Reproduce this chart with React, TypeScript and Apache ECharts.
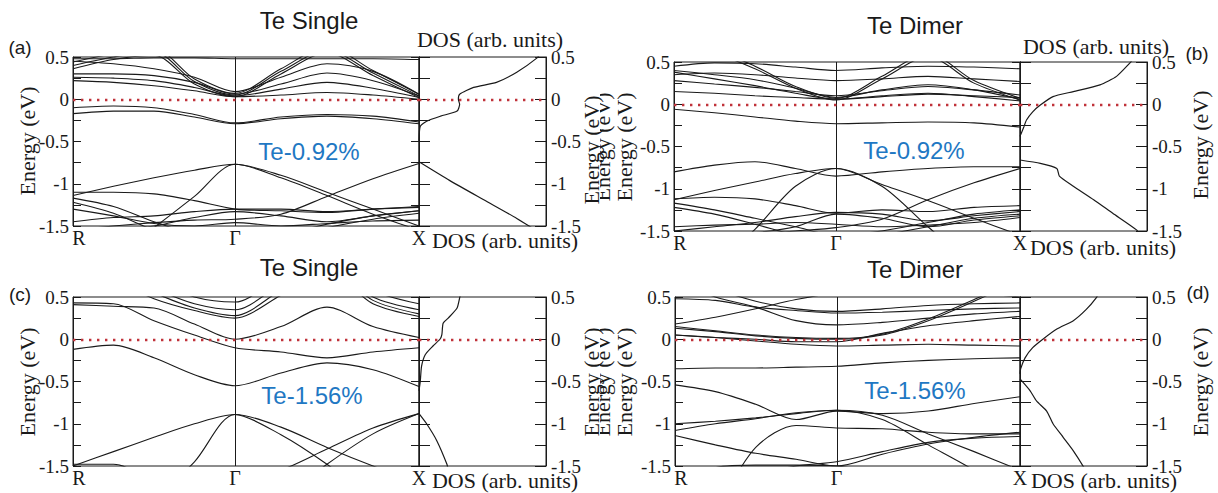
import React, { useEffect, useRef } from 'react';
import * as echarts from 'echarts';

// ---- k-path (R - Γ - X) sample positions, fraction of path length ----
const KPTS = [0, 0.117, 0.234, 0.351, 0.468, 0.601, 0.734, 0.867, 1];
const K_LABEL_POS = [0, 0.468, 1];
const K_LABELS = ['R', 'Γ', 'X'];
const GAMMA = 0.468;
const E_MIN = -1.5;
const E_MAX = 0.5;
const E_STEP = 0.25;

// ---- texts ----
const TITLES = ['Te Single', 'Te Dimer', 'Te Single', 'Te Dimer'];
const STRAINS = ['Te-0.92%', 'Te-0.92%', 'Te-1.56%', 'Te-1.56%'];
const LETTERS = ['(a)', '(b)', '(c)', '(d)'];
const DOS_NAME = 'DOS (arb. units)';
const E_NAME = 'Energy (eV)';

// ---- band energies (eV) at KPTS, panel (a): Te single, 0.92% ----
const BANDS_A: number[][] = [
  [0.36, 0.47, 0.52, 0.18, 0.03, 0.3, 0.55, 0.28, 0.02],
  [0.4, 0.5, 0.56, 0.21, 0.05, 0.33, 0.58, 0.31, 0.04],
  [0.44, 0.54, 0.6, 0.24, 0.07, 0.36, 0.62, 0.34, 0.06],
  [0.22, 0.2, 0.16, 0.1, 0.03, 0.05, 0.08, 0.05, 0.0],
  [0.26, 0.25, 0.22, 0.14, 0.04, 0.12, 0.2, 0.13, 0.02],
  [0.3, 0.3, 0.28, 0.2, 0.06, 0.18, 0.31, 0.22, 0.04],
  [0.45, 0.42, 0.36, 0.26, 0.09, 0.26, 0.42, 0.33, 0.06],
  [0.48, 0.48, 0.49, 0.49, 0.48, 0.48, 0.48, 0.48, 0.47],
  [-0.1, -0.08, -0.1, -0.18, -0.28, -0.21, -0.18, -0.2, -0.27],
  [-0.17, -0.14, -0.14, -0.21, -0.29, -0.23, -0.2, -0.23, -0.29],
  [-1.14, -1.03, -0.93, -0.84, -0.77, -0.93, -1.14, -1.36, -1.55],
  [-2.2, -1.88, -1.52, -1.15, -0.77, -0.9, -1.1, -1.3, -1.5],
  [-1.55, -1.5, -1.46, -1.43, -1.42, -1.36, -1.15, -0.94, -0.76],
  [-1.1, -1.1, -1.12, -1.2, -1.3, -1.32, -1.34, -1.3, -1.28],
  [-1.17, -1.27, -1.45, -1.6, -1.7, -1.6, -1.48, -1.38, -1.32],
  [-1.22, -1.35, -1.55, -1.7, -1.75, -1.65, -1.52, -1.42, -1.35],
  [-1.45, -1.4, -1.38, -1.33, -1.3, -1.3, -1.33, -1.3, -1.27],
  [-1.6, -1.55, -1.5, -1.4, -1.33, -1.38, -1.45, -1.38, -1.32],
  [-1.3, -1.38, -1.47, -1.5, -1.46, -1.5, -1.47, -1.44, -1.43],
];

// ---- panel (b): Te dimer, 0.92% ----
const BANDS_B: number[][] = [
  [0.65, 0.6, 0.42, 0.19, 0.05, 0.3, 0.56, 0.25, 0.05],
  [0.7, 0.64, 0.45, 0.21, 0.07, 0.33, 0.6, 0.28, 0.07],
  [0.38, 0.3, 0.22, 0.13, 0.06, 0.1, 0.13, 0.09, 0.04],
  [0.4, 0.35, 0.29, 0.19, 0.08, 0.17, 0.23, 0.17, 0.06],
  [0.45, 0.49, 0.48, 0.44, 0.4, 0.43, 0.45, 0.44, 0.42],
  [0.35, 0.37, 0.35, 0.31, 0.28, 0.3, 0.33, 0.3, 0.27],
  [0.28, 0.24, 0.2, 0.15, 0.1, 0.16, 0.21, 0.17, 0.11],
  [0.15, 0.13, 0.1, 0.08, 0.06, 0.09, 0.12, 0.1, 0.08],
  [-0.06, -0.1, -0.15, -0.2, -0.23, -0.22, -0.21, -0.22, -0.27],
  [-0.8, -0.72, -0.68, -0.76, -0.85, -0.8, -0.76, -0.74, -0.74],
  [-1.13, -1.02, -0.92, -0.82, -0.76, -0.95, -1.14, -1.35, -1.55],
  [-2.2, -1.9, -1.48, -0.97, -0.76, -0.97, -1.45, -1.9, -2.2],
  [-1.62, -1.58, -1.54, -1.5, -1.46, -1.36, -1.13, -0.93, -0.76],
  [-1.12, -1.1, -1.12, -1.2, -1.29, -1.25, -1.27, -1.22, -1.2],
  [-1.17, -1.25, -1.35, -1.45, -1.55, -1.5, -1.4, -1.3, -1.25],
  [-1.22, -1.3, -1.42, -1.55, -1.65, -1.55, -1.45, -1.35, -1.3],
  [-1.5, -1.45, -1.4, -1.33, -1.28, -1.3, -1.38, -1.32, -1.27],
  [-1.6, -1.55, -1.52, -1.45, -1.3, -1.35, -1.45, -1.37, -1.32],
  [-1.45, -1.43, -1.42, -1.4, -1.42, -1.45, -1.43, -1.4, -1.34],
];

// ---- panel (c): Te single, 1.56% ----
const BANDS_C: number[][] = [
  [0.43, 0.42, 0.22, 0.05, -0.1, -0.15, -0.22, -0.15, -0.1],
  [0.41, 0.39, 0.37, 0.18, 0.0, 0.15, 0.38, 0.15, 0.02],
  [0.9, 0.7, 0.48, 0.34, 0.25, 0.52, 0.8, 0.42, 0.27],
  [0.95, 0.75, 0.55, 0.37, 0.28, 0.58, 0.85, 0.46, 0.3],
  [1.0, 0.8, 0.6, 0.42, 0.35, 0.65, 0.9, 0.5, 0.35],
  [1.1, 0.9, 0.7, 0.5, 0.44, 0.75, 1.0, 0.58, 0.42],
  [-0.12, -0.07, -0.22, -0.42, -0.55, -0.4, -0.28, -0.36, -0.56],
  [-1.5, -1.33, -1.16, -1.0, -0.89, -1.04, -1.28, -1.5, -1.7],
  [-2.5, -2.2, -1.9, -1.45, -0.89, -1.13, -1.48, -1.9, -2.3],
  [-2.5, -2.2, -2.0, -1.8, -1.7, -1.55, -1.3, -1.05, -0.88],
  [-2.6, -2.4, -2.2, -2.1, -2.3, -1.9, -1.48, -1.12, -0.88],
  [-1.48, -1.48, -1.7, -2.0, -2.2, -2.2, -2.2, -2.2, -2.2],
];

// ---- panel (d): Te dimer, 1.56% ----
const BANDS_D: number[][] = [
  [0.48, 0.46, 0.38, 0.34, 0.31, 0.32, 0.34, 0.36, 0.37],
  [0.18, 0.26, 0.36, 0.47, 0.55, 0.6, 0.6, 0.55, 0.5],
  [0.13, 0.09, 0.04, 0.01, 0.0, 0.05, 0.22, 0.45, 0.7],
  [0.15, 0.1, 0.05, 0.02, 0.01, 0.06, 0.24, 0.47, 0.72],
  [0.05, 0.02, 0.0, -0.03, -0.03, 0.07, 0.16, 0.22, 0.27],
  [0.7, 0.5, 0.38, 0.22, 0.17, 0.2, 0.25, 0.3, 0.33],
  [0.8, 0.6, 0.45, 0.36, 0.33, 0.36, 0.4, 0.42, 0.43],
  [0.05, 0.02, -0.02, -0.06, -0.08, -0.07, -0.06, -0.07, -0.08],
  [-0.35, -0.34, -0.34, -0.33, -0.32, -0.28, -0.25, -0.23, -0.22],
  [-0.54, -0.62, -0.77, -0.95, -0.85, -0.88, -0.85, -0.76, -0.68],
  [-1.08, -1.0, -0.94, -0.87, -0.84, -0.9, -1.12, -1.33, -1.55],
  [-1.14, -1.25, -1.35, -1.42, -1.5, -1.36, -1.24, -1.16, -1.1],
  [-2.5, -2.0, -1.28, -1.02, -1.05, -1.06, -1.1, -1.12, -1.12],
  [-1.0, -0.97, -0.93, -0.88, -0.84, -0.95, -1.25, -1.55, -1.9],
  [-1.7, -1.52, -1.49, -1.49, -1.5, -1.6, -1.7, -1.8, -1.9],
  [-1.8, -1.7, -1.6, -1.5, -1.45, -1.33, -1.22, -1.17, -1.15],
];

// ---- DOS curves: [dos (arb.), energy (eV)], split where DOS vanishes ----
const DOS_A_UPPER: number[][] = [[0.96, 0.55], [0.93, 0.49], [0.77, 0.32], [0.61, 0.2], [0.43, 0.14], [0.32, 0.06], [0.31, 0.0], [0.32, -0.06], [0.3, -0.14], [0.17, -0.2], [0.06, -0.26], [0.01, -0.32], [0, -0.49]];
const DOS_A_LOWER: number[][] = [[0, -0.74], [0.24, -0.96], [0.51, -1.19], [0.77, -1.41], [0.92, -1.55]];
const DOS_B_UPPER: number[][] = [[0.9, 0.55], [0.86, 0.48], [0.76, 0.33], [0.63, 0.23], [0.42, 0.15], [0.26, 0.09], [0.16, -0.01], [0.1, -0.09], [0.05, -0.19], [0.03, -0.27], [0, -0.38]];
const DOS_B_LOWER: number[][] = [[0, -0.66], [0.16, -0.7], [0.29, -0.76], [0.31, -0.85], [0.42, -0.97], [0.58, -1.13], [0.73, -1.29], [0.92, -1.49], [0.94, -1.55]];
const DOS_C_UPPER: number[][] = [[0.33, 0.55], [0.32, 0.49], [0.3, 0.37], [0.23, 0.25], [0.19, 0.19], [0.18, 0.055], [0.165, 0], [0.11, -0.08], [0.05, -0.18], [0.02, -0.32], [0.01, -0.5], [0, -0.61]];
const DOS_C_LOWER: number[][] = [[0, -0.88], [0.06, -1.0], [0.14, -1.2], [0.22, -1.48], [0.23, -1.55]];
const DOS_D_UPPER: number[][] = [[0.62, 0.55], [0.6, 0.49], [0.52, 0.35], [0.42, 0.22], [0.29, 0.12], [0.18, 0], [0.1, -0.1], [0.04, -0.22], [0.005, -0.35], [0, -0.41]];
const DOS_D_LOWER: number[][] = [[0, -0.47], [0.08, -0.61], [0.13, -0.73], [0.21, -0.85], [0.26, -1.0], [0.34, -1.16], [0.42, -1.32], [0.5, -1.51], [0.51, -1.55]];

const PANEL_BANDS = [BANDS_A, BANDS_B, BANDS_C, BANDS_D];
const PANEL_DOS = [
  [DOS_A_UPPER, DOS_A_LOWER],
  [DOS_B_UPPER, DOS_B_LOWER],
  [DOS_C_UPPER, DOS_C_LOWER],
  [DOS_D_UPPER, DOS_D_LOWER],
];

// ---- layout (pixels) ----
const LAYOUT = [
  { band: { left: 73, top: 57, width: 346, height: 169 }, dos: { left: 419, top: 57, width: 127, height: 169 } },
  { band: { left: 674, top: 62, width: 346, height: 169 }, dos: { left: 1020, top: 62, width: 127, height: 169 } },
  { band: { left: 73, top: 297, width: 346, height: 169 }, dos: { left: 419, top: 297, width: 127, height: 169 } },
  { band: { left: 675, top: 297, width: 345, height: 169 }, dos: { left: 1020, top: 297, width: 127, height: 169 } },
];

const TEXT_POS: any[] = [
  { title: [309, 20], letter: [20, 47], strain: [309, 151], eLeft: [27, 141], eRight: [591, 150], dosTop: [490, 39], dosBottom: [505, 240] },
  { title: [915, 25], letter: [1197, 53], strain: [914, 150], eLeft: [624, 147], eRight: [1200, 145], eCut: [602, 147], dosTop: [1096, 46], dosBottom: [1103, 247] },
  { title: [309, 267], letter: [20, 294], strain: [312, 395], eLeft: [27, 382], eRight: [591, 382], dosBottom: [505, 480] },
  { title: [915, 269], letter: [1198, 292], strain: [915, 390], eLeft: [624, 382], eRight: [1200, 382], eCut: [602, 382], dosBottom: [1104, 480] },
];

const SERIF = '"Liberation Serif", "Times New Roman", serif';
const SANS = '"Liberation Sans", Arial, sans-serif';
const INK = '#1a1a1a';
const RED_DOTS = { color: '#c0323a', width: 2.4, type: [2.4, 5.6] as any, cap: 'butt' };

function yAxisDef(gridIndex: number, position: 'left' | 'right', showLabel: boolean, tickLen: number) {
  return {
    gridIndex,
    type: 'value',
    position,
    min: E_MIN,
    max: E_MAX,
    interval: E_STEP,
    axisLine: { show: true, onZero: false, lineStyle: { color: INK, width: 1 } },
    axisTick: { show: true, inside: true, length: tickLen, lineStyle: { color: INK, width: 1 } },
    splitLine: { show: false },
    axisLabel: {
      show: showLabel,
      margin: position === 'left' ? 4 : 5,
      color: INK,
      fontFamily: SERIF,
      fontSize: 19,
      formatter: (v: number) => (Math.abs(v * 2 - Math.round(v * 2)) < 1e-6 ? String(+v.toFixed(2)) : ''),
    },
  };
}

function textEl(text: string, pos: number[], font: string, fill = INK, rotation = 0, z = 10) {
  return {
    type: 'text',
    x: pos[0],
    y: pos[1],
    rotation,
    z,
    silent: true,
    style: { text, font, fill, textAlign: 'center', textVerticalAlign: 'middle' },
  };
}

function buildOption() {
  const grid: any[] = [];
  const xAxis: any[] = [];
  const yAxis: any[] = [];
  const series: any[] = [];
  const graphic: any[] = [];

  LAYOUT.forEach((lay, i) => {
    grid.push({ ...lay.band, show: true, borderColor: INK, borderWidth: 1, backgroundColor: 'transparent' });
    grid.push({ ...lay.dos, show: true, borderColor: INK, borderWidth: 1, backgroundColor: 'transparent' });

    xAxis.push({
      gridIndex: 2 * i,
      type: 'value',
      min: 0,
      max: 1,
      axisLine: { show: false, onZero: false },
      axisTick: { show: false },
      splitLine: { show: false },
      axisLabel: {
        customValues: K_LABEL_POS,
        margin: 2,
        color: INK,
        fontFamily: SERIF,
        fontSize: 20,
        formatter: (v: number) => {
          const idx = K_LABEL_POS.findIndex((k) => Math.abs(k - v) < 1e-6);
          if (idx < 0) return '';
          return idx === 0 ? '{r|' + K_LABELS[0] + '}' : K_LABELS[idx];
        },
        rich: { r: { padding: [0, 0, 0, 12], fontFamily: SERIF, fontSize: 20, color: INK } },
      },
    });
    xAxis.push({ gridIndex: 2 * i + 1, type: 'value', min: 0, max: 1, show: false, axisLine: { onZero: false } });

    yAxis.push(yAxisDef(2 * i, 'left', true, 8));
    yAxis.push(yAxisDef(2 * i, 'right', false, 8));
    yAxis.push(yAxisDef(2 * i + 1, 'left', false, 11));
    yAxis.push(yAxisDef(2 * i + 1, 'right', true, 11));

    PANEL_BANDS[i].forEach((band) => {
      series.push({
        type: 'line',
        xAxisIndex: 2 * i,
        yAxisIndex: 4 * i,
        data: KPTS.map((k, m) => [k, band[m]]),
        showSymbol: false,
        smooth: 0.3,
        silent: true,
        lineStyle: { color: INK, width: 1.1 },
        z: 2,
      });
    });
    // Γ line and Fermi level (band part)
    series.push({
      type: 'line',
      xAxisIndex: 2 * i,
      yAxisIndex: 4 * i,
      data: [],
      silent: true,
      z: 3,
      markLine: {
        silent: true,
        symbol: ['none', 'none'],
        label: { show: false },
        data: [
          { xAxis: GAMMA, lineStyle: { color: INK, width: 1, type: 'solid' } },
          { yAxis: 0, lineStyle: RED_DOTS },
        ],
      },
    });

    PANEL_DOS[i].forEach((seg) => {
      series.push({
        type: 'line',
        xAxisIndex: 2 * i + 1,
        yAxisIndex: 4 * i + 3,
        data: seg,
        showSymbol: false,
        smooth: 0.2,
        silent: true,
        lineStyle: { color: INK, width: 1.2 },
        z: 2,
      });
    });
    series.push({
      type: 'line',
      xAxisIndex: 2 * i + 1,
      yAxisIndex: 4 * i + 3,
      data: [],
      silent: true,
      z: 3,
      markLine: {
        silent: true,
        symbol: ['none', 'none'],
        label: { show: false },
        data: [{ yAxis: 0, lineStyle: RED_DOTS }],
      },
    });

    const tp = TEXT_POS[i];
    graphic.push(textEl(TITLES[i], tp.title, '24px ' + SANS));
    graphic.push(textEl(LETTERS[i], tp.letter, '19px ' + SANS));
    graphic.push(textEl(STRAINS[i], tp.strain, '24px ' + SANS, '#1f78c3'));
    graphic.push(textEl(E_NAME, tp.eLeft, '22px ' + SERIF, INK, Math.PI / 2, 12));
    graphic.push(textEl(E_NAME, tp.eRight, '22px ' + SERIF, INK, Math.PI / 2, 12));
    if (tp.eCut) {
      graphic.push(textEl(E_NAME, tp.eCut, '22px ' + SERIF, INK, Math.PI / 2, 8));
      graphic.push({
        type: 'rect',
        z: 9,
        silent: true,
        shape: { x: 585, y: tp.eCut[1] - 65, width: 15, height: 130 },
        style: { fill: '#ffffff' },
      });
    }
    if (tp.dosTop) graphic.push(textEl(DOS_NAME, tp.dosTop, '22px ' + SERIF));
    graphic.push(textEl(DOS_NAME, tp.dosBottom, '22px ' + SERIF));
  });

  return {
    animation: false,
    backgroundColor: '#ffffff',
    grid,
    xAxis,
    yAxis,
    series,
    graphic: { elements: graphic },
  };
}

export default function App() {
  const ref = useRef<HTMLDivElement>(null);
  useEffect(() => {
    if (!ref.current) return;
    const chart = echarts.init(ref.current, undefined, { renderer: 'svg' });
    chart.setOption(buildOption() as any);
    return () => chart.dispose();
  }, []);
  return (
    <div
      ref={ref}
      style={{ position: 'absolute', left: 0, top: 0, width: 1218, height: 493, background: '#fff' }}
    />
  );
}
